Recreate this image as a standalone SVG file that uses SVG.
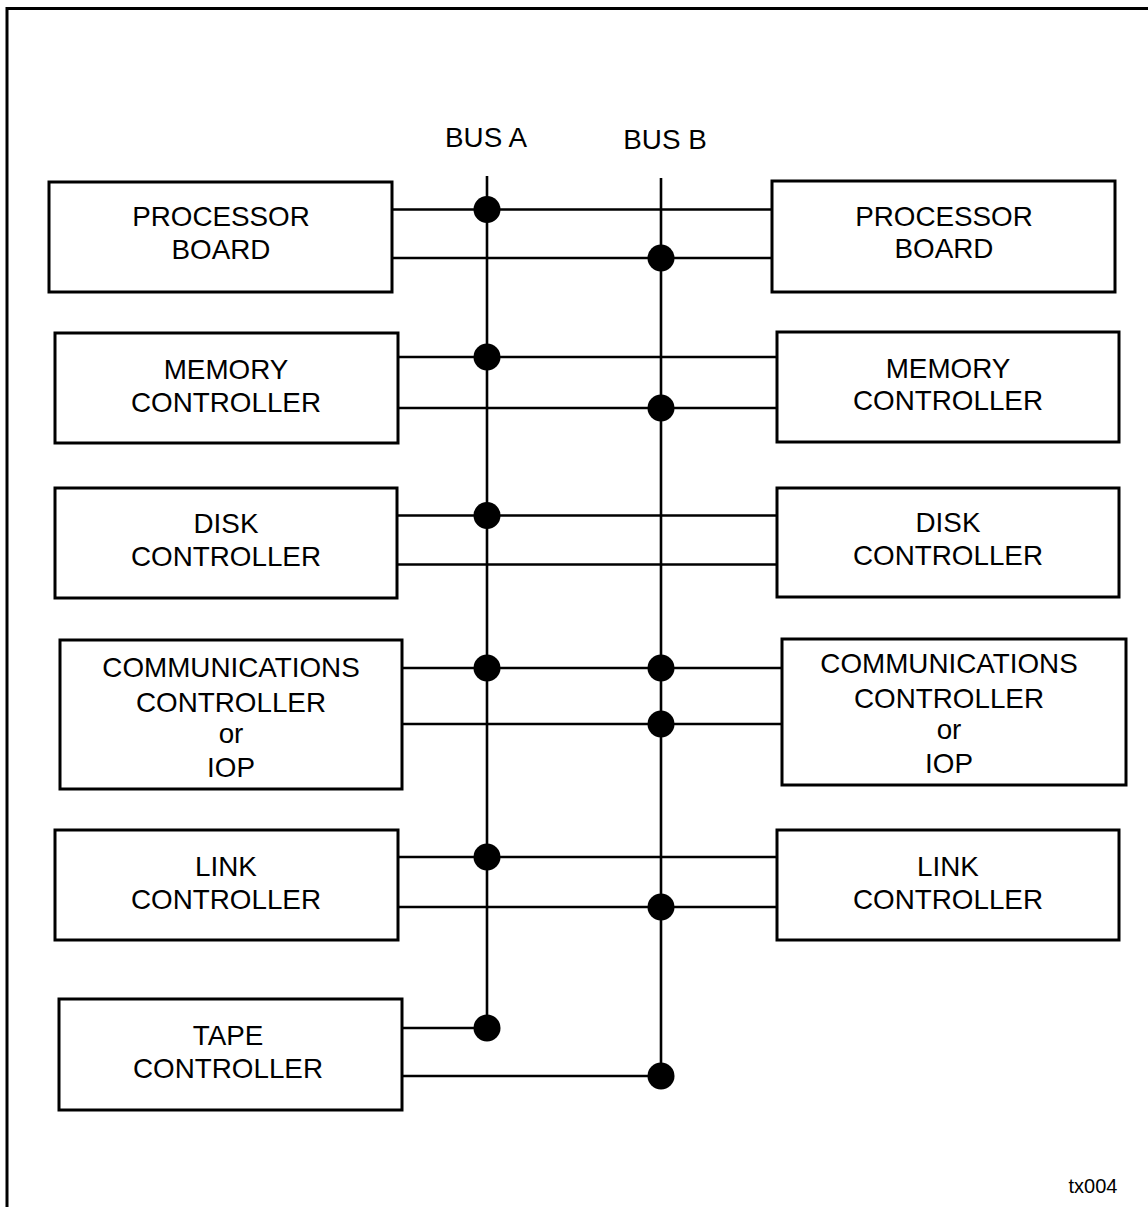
<svg xmlns="http://www.w3.org/2000/svg" width="1148" height="1207" viewBox="0 0 1148 1207">
  <style>
    .box { fill: #fff; stroke: #000; stroke-width: 3; }
    .wire { fill: none; stroke: #000; stroke-width: 2.6; }
    .dot { fill: #000; }
    text { font-family: "Liberation Sans", Arial, Helvetica, sans-serif; font-size: 27.8px; fill: #000; text-anchor: middle; }
    .tag { font-size: 20px; }
  </style>
  <rect x="0" y="0" width="1148" height="1207" fill="#fff"/>
  <!-- outer frame -->
  <rect x="7" y="8.5" width="1160" height="1220" fill="none" stroke="#000" stroke-width="3"/>

  <!-- bus labels -->
  <text x="486" y="147">BUS A</text>
  <text x="665" y="149">BUS B</text>

  <g id="connectors">
    <!-- bus backbones -->
    <path class="wire" d="M487,176 V1028"/>
    <path class="wire" d="M661,178 V1076"/>
    <!-- processor board -->
    <path class="wire" d="M392,209.5 H772"/>
    <path class="wire" d="M392,258 H772"/>
    <!-- memory controller -->
    <path class="wire" d="M398,357 H777"/>
    <path class="wire" d="M398,408 H777"/>
    <!-- disk controller -->
    <path class="wire" d="M397,515.5 H777"/>
    <path class="wire" d="M397,564.5 H777"/>
    <!-- communications controller -->
    <path class="wire" d="M402,668 H782"/>
    <path class="wire" d="M402,724 H782"/>
    <!-- link controller -->
    <path class="wire" d="M398,857 H777"/>
    <path class="wire" d="M398,907 H777"/>
    <!-- tape controller -->
    <path class="wire" d="M402,1028 H487"/>
    <path class="wire" d="M402,1076 H661"/>
    <!-- bus taps -->
    <circle class="dot" cx="487" cy="209.5" r="13.5"/>
    <circle class="dot" cx="661" cy="258" r="13.5"/>
    <circle class="dot" cx="487" cy="357" r="13.5"/>
    <circle class="dot" cx="661" cy="408" r="13.5"/>
    <circle class="dot" cx="487" cy="515.5" r="13.5"/>
    <circle class="dot" cx="487" cy="668" r="13.5"/>
    <circle class="dot" cx="661" cy="668" r="13.5"/>
    <circle class="dot" cx="661" cy="724" r="13.5"/>
    <circle class="dot" cx="487" cy="857" r="13.5"/>
    <circle class="dot" cx="661" cy="907" r="13.5"/>
    <circle class="dot" cx="487" cy="1028" r="13.5"/>
    <circle class="dot" cx="661" cy="1076" r="13.5"/>
  </g>

  <g id="proc-left">
    <rect class="box" x="49" y="182" width="343" height="110"/>
    <text x="221" y="226">PROCESSOR</text>
    <text x="221" y="259">BOARD</text>
  </g>
  <g id="proc-right">
    <rect class="box" x="772" y="181" width="343" height="111"/>
    <text x="944" y="226">PROCESSOR</text>
    <text x="944" y="258">BOARD</text>
  </g>

  <g id="mem-left">
    <rect class="box" x="55" y="333" width="343" height="110"/>
    <text x="226" y="379">MEMORY</text>
    <text x="226" y="412">CONTROLLER</text>
  </g>
  <g id="mem-right">
    <rect class="box" x="777" y="332" width="342" height="110"/>
    <text x="948" y="378">MEMORY</text>
    <text x="948" y="410">CONTROLLER</text>
  </g>

  <g id="disk-left">
    <rect class="box" x="55" y="488" width="342" height="110"/>
    <text x="226" y="533">DISK</text>
    <text x="226" y="566">CONTROLLER</text>
  </g>
  <g id="disk-right">
    <rect class="box" x="777" y="488" width="342" height="109"/>
    <text x="948" y="532">DISK</text>
    <text x="948" y="565">CONTROLLER</text>
  </g>

  <g id="comm-left">
    <rect class="box" x="60" y="640" width="342" height="149"/>
    <text x="231" y="677">COMMUNICATIONS</text>
    <text x="231" y="712">CONTROLLER</text>
    <text x="231" y="743">or</text>
    <text x="231" y="777">IOP</text>
  </g>
  <g id="comm-right">
    <rect class="box" x="782" y="639" width="344" height="146"/>
    <text x="949" y="673">COMMUNICATIONS</text>
    <text x="949" y="708">CONTROLLER</text>
    <text x="949" y="739">or</text>
    <text x="949" y="773">IOP</text>
  </g>

  <g id="link-left">
    <rect class="box" x="55" y="830" width="343" height="110"/>
    <text x="226" y="876">LINK</text>
    <text x="226" y="909">CONTROLLER</text>
  </g>
  <g id="link-right">
    <rect class="box" x="777" y="830" width="342" height="110"/>
    <text x="948" y="876">LINK</text>
    <text x="948" y="909">CONTROLLER</text>
  </g>

  <g id="tape-left">
    <rect class="box" x="59" y="999" width="343" height="111"/>
    <text x="228" y="1045">TAPE</text>
    <text x="228" y="1078">CONTROLLER</text>
  </g>

  <text class="tag" x="1093" y="1193">tx004</text>
</svg>
